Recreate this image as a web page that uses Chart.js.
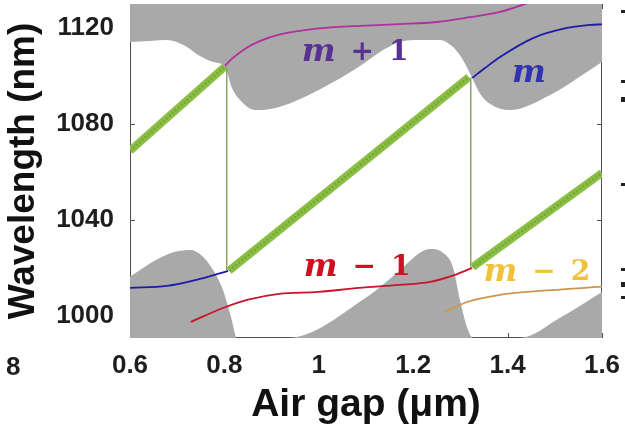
<!DOCTYPE html>
<html>
<head>
<meta charset="utf-8">
<script src="https://cdn.jsdelivr.net/npm/chart.js@4/dist/chart.umd.min.js"></script>
<style>
  html, body { margin: 0; padding: 0; background: #fff; }
  #wrap { width: 625px; height: 429px; position: relative; }
</style>
</head>
<body>
<div id="wrap"><canvas id="chart" width="625" height="429"></canvas></div>
<script>
// axes
const xTicks = [0.6, 0.8, 1, 1.2, 1.4, 1.6];
const yTicks = [1000, 1040, 1080, 1120];
const xMin = 0.6, xMax = 1.6;
const yMin = 990.8, yMax = 1130;

// upper grey region (its lower edge)
const upperGap =    [0.600, 0.642, 0.678, 0.717, 0.748, 0.776, 0.801, 0.816, 0.833, 0.865, 0.916, 1.000, 1.085, 1.136, 1.172, 1.214, 1.257, 1.282, 1.303, 1.325, 1.342, 1.363, 1.405, 1.490, 1.568, 1.600];
const upperLambda = [1114.2, 1114.6, 1115.0, 1112.5, 1108.3, 1105.8, 1103.8, 1095.0, 1090.0, 1085.8, 1087.1, 1094.2, 1103.8, 1110.8, 1114.2, 1115.0, 1115.0, 1112.5, 1107.5, 1099.2, 1092.5, 1088.3, 1085.8, 1092.1, 1101.7, 1105.8];

// lower grey region (its upper edge)
const lowerGap =    [0.600, 0.644, 0.695, 0.729, 0.748, 0.772, 0.797, 0.814, 0.827, 0.933, 1.102, 1.172, 1.214, 1.236, 1.263, 1.284, 1.299, 1.314, 1.327, 1.426, 1.511, 1.600];
const lowerLambda = [1016.3, 1022.1, 1026.7, 1027.5, 1025.8, 1020.4, 1010.8, 999.6, 990.8, 990.8, 1007.9, 1019.0, 1026.3, 1027.9, 1026.3, 1020.4, 1006.7, 995.4, 990.8, 990.8, 999.2, 1010.0];

// mode m+1
const mPlus1Gap =    [0.801, 0.815, 0.845, 0.875, 0.916, 1.000, 1.100, 1.170, 1.250, 1.320, 1.384, 1.430, 1.450];
const mPlus1Lambda = [1104.2, 1107.0, 1111.5, 1114.5, 1117.2, 1119.8, 1121.0, 1121.6, 1122.5, 1124.5, 1126.7, 1129.5, 1131.0];

// mode m (two branches)
const mLeftGap =     [0.600, 0.678, 0.748, 0.808];
const mLeftLambda =  [1011.7, 1012.5, 1015.4, 1018.8];
const mRightGap =    [1.325, 1.352, 1.384, 1.454, 1.526, 1.575, 1.600];
const mRightLambda = [1099.2, 1103.3, 1107.9, 1115.8, 1120.0, 1121.3, 1121.5];

// mode m-1
const mMinus1Gap =    [0.729, 0.797, 0.848, 0.916, 1.000, 1.085, 1.170, 1.236, 1.287, 1.325];
const mMinus1Lambda = [997.5, 1003.3, 1006.7, 1009.2, 1010.0, 1011.7, 1012.9, 1014.2, 1017.0, 1020.0];

// mode m-2
const mMinus2Gap =    [1.267, 1.314, 1.384, 1.469, 1.600];
const mMinus2Lambda = [1001.7, 1005.8, 1008.8, 1010.4, 1012.2];

// lasing wavelength (green), null = break
const laserGap =    [0.600, 0.801, null, 0.810, 1.318, null, 1.326, 1.600];
const laserLambda = [1068.8, 1103.9, null, 1018.9, 1099.5, null, 1020.4, 1059.6];

// mode hops
const hopGap =    [0.805, 0.805, null, 1.322, 1.322];
const hopLambda = [1103.9, 1018.9, null, 1099.5, 1020.4];

function pts(xs, ys) {
    return xs.map((x, i) => ({ x: x === null ? NaN : x, y: ys[i] }));
}

const GREY = '#a9a9a9';
const FONT = '"Liberation Sans", Arial, sans-serif';

// frame + inward ticks, drawn under the grey regions like the original
const framePlugin = {
    id: 'frame',
    beforeDatasetsDraw(chart) {
        const { ctx, chartArea: a, scales: { x, y } } = chart;
        ctx.save();
        ctx.strokeStyle = '#505050';
        ctx.lineWidth = 1;
        ctx.strokeRect(a.left + 0.5, a.top + 0.5, a.width - 1, a.height - 1);
        ctx.beginPath();
        xTicks.forEach(v => {
            const px = Math.round(x.getPixelForValue(v)) + 0.5;
            ctx.moveTo(px, a.bottom); ctx.lineTo(px, a.bottom - 5);
            ctx.moveTo(px, a.top); ctx.lineTo(px, a.top + 5);
        });
        yTicks.forEach(v => {
            const py = Math.round(y.getPixelForValue(v)) + 0.5;
            ctx.moveTo(a.left, py); ctx.lineTo(a.left + 5, py);
            ctx.moveTo(a.right, py); ctx.lineTo(a.right - 5, py);
        });
        ctx.stroke();
        ctx.restore();
    }
};

// mode labels
const modeLabels = [
    { parts: ['m', '+', '1'], gap: 1.077, lambda: 1109.6, color: '#5a3192' },
    { parts: ['m'], gap: 1.445, lambda: 1101.0, color: '#2f33b0' },
    { parts: ['m', '\u2212', '1'], gap: 1.081, lambda: 1020.2, color: '#cf1020' },
    { parts: ['m', '\u2212', '2'], gap: 1.462, lambda: 1018.0, color: '#f0c23c' }
];

const labelPlugin = {
    id: 'modeLabels',
    afterDatasetsDraw(chart) {
        const { ctx, scales: { x, y } } = chart;
        ctx.save();
        ctx.textBaseline = 'middle';
        ctx.textAlign = 'left';
        modeLabels.forEach(lb => {
            const fonts = lb.parts.map((p, i) => i === 0 ? 'italic bold 32px "DejaVu Serif"' : 'bold 28px "DejaVu Serif"');
            const widths = lb.parts.map((p, i) => { ctx.font = fonts[i]; return ctx.measureText(p).width; });
            const space = 15;
            const total = widths.reduce((a, b) => a + b, 0) + space * (lb.parts.length - 1);
            let cx = x.getPixelForValue(lb.gap) - total / 2;
            const cy = y.getPixelForValue(lb.lambda);
            ctx.fillStyle = lb.color;
            lb.parts.forEach((p, i) => {
                ctx.font = fonts[i];
                ctx.fillText(p, cx, cy);
                cx += widths[i] + space;
            });
        });
        // bits of the neighbouring panels, cut off at the image edges
        ctx.font = 'bold 26px ' + FONT;
        ctx.fillStyle = '#1e1e1e';
        ctx.fillText('8', 6, 368);
        ctx.fillStyle = '#222';
        [12, 82, 99, 185, 270, 284, 298].forEach(py => ctx.fillRect(621, py - 2, 4, py === 99 || py === 284 ? 5 : 3));
        ctx.restore();
    }
};

const lineBase = {
    pointRadius: 0,
    borderWidth: 1.8,
    fill: false,
    cubicInterpolationMode: 'monotone',
    spanGaps: false
};

new Chart(document.getElementById('chart'), {
    type: 'line',
    data: {
        datasets: [
            { ...lineBase, data: pts(upperGap, upperLambda), borderWidth: 0, borderColor: GREY,
              backgroundColor: GREY, fill: 'end', order: 10 },
            { ...lineBase, data: pts(lowerGap, lowerLambda), borderWidth: 0, borderColor: GREY,
              backgroundColor: GREY, fill: 'start', order: 10 },
            { ...lineBase, data: pts(hopGap, hopLambda), borderColor: '#7d9a48', borderWidth: 1.3,
              cubicInterpolationMode: 'default', tension: 0, order: 6 },
            { ...lineBase, data: pts(mPlus1Gap, mPlus1Lambda), borderColor: '#b0309e', order: 4 },
            { ...lineBase, data: pts(mLeftGap, mLeftLambda), borderColor: '#1c1ca8', order: 4 },
            { ...lineBase, data: pts(mRightGap, mRightLambda), borderColor: '#1c1ca8', order: 4 },
            { ...lineBase, data: pts(mMinus1Gap, mMinus1Lambda), borderColor: '#c8142c', order: 4 },
            { ...lineBase, data: pts(mMinus2Gap, mMinus2Lambda), borderColor: '#cf9650', order: 4 },
            { ...lineBase, data: pts(laserGap, laserLambda), borderColor: '#8cbf45', borderWidth: 8,
              cubicInterpolationMode: 'default', tension: 0, borderCapStyle: 'butt', order: 2 },
            { ...lineBase, data: pts(laserGap, laserLambda), borderColor: 'rgba(112,160,48,0.75)', borderWidth: 3,
              borderDash: [2, 2], cubicInterpolationMode: 'default', tension: 0, order: 1 }
        ]
    },
    options: {
        responsive: false,
        animation: false,
        devicePixelRatio: 1,
        layout: { padding: { top: 4, right: 23, left: 0, bottom: 0 } },
        plugins: {
            legend: { display: false },
            tooltip: { enabled: false }
        },
        scales: {
            x: {
                type: 'linear',
                min: xMin, max: xMax,
                grid: { display: false },
                border: { display: false },
                afterBuildTicks: s => { s.ticks = xTicks.map(v => ({ value: v })); },
                afterFit: s => { s.height = 91; s.paddingLeft = 0; s.paddingRight = 0; },
                ticks: {
                    padding: 4,
                    maxRotation: 0,
                    autoSkip: false,
                    color: '#1e1e1e',
                    font: { family: FONT, size: 26, weight: 'bold' },
                    callback: v => String(v)
                },
                title: {
                    display: true,
                    text: 'Air gap (\u03bcm)',
                    color: '#111',
                    padding: 0,
                    font: { family: FONT, size: 39, weight: 'bold' }
                }
            },
            y: {
                type: 'linear',
                min: yMin, max: yMax,
                grid: { display: false },
                border: { display: false },
                afterBuildTicks: s => { s.ticks = yTicks.map(v => ({ value: v })); },
                afterFit: s => { s.width = 130; s.paddingTop = 0; s.paddingBottom = 0; },
                ticks: {
                    padding: 8,
                    autoSkip: false,
                    color: '#1e1e1e',
                    font: { family: FONT, size: 26, weight: 'bold' },
                    callback: v => String(v)
                },
                title: {
                    display: true,
                    text: 'Wavelength (nm)',
                    color: '#111',
                    padding: { top: 2, bottom: 0 },
                    font: { family: FONT, size: 37, weight: 'bold' }
                }
            }
        }
    },
    plugins: [framePlugin, labelPlugin]
});
</script>
</body>
</html>
